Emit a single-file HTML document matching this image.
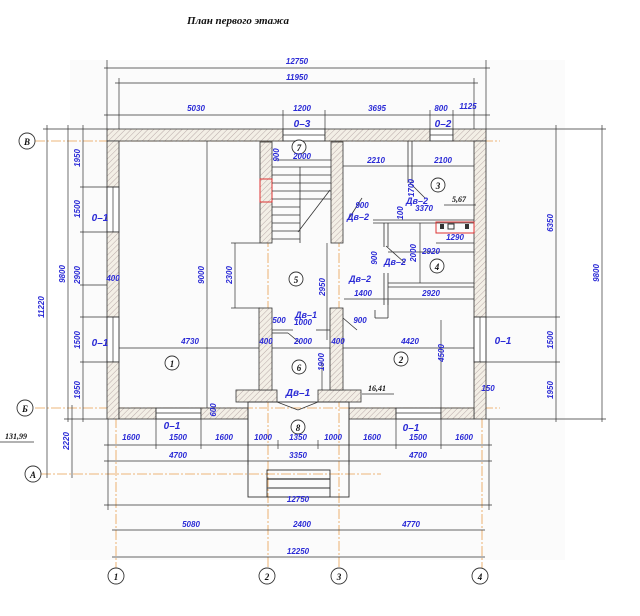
<!DOCTYPE html>
<html><head><meta charset="utf-8"><style>
html,body{margin:0;padding:0;background:#fff;width:640px;height:616px;overflow:hidden}
svg{display:block}
.t{font-family:"Liberation Sans",sans-serif;font-style:italic;font-weight:bold;font-size:8px;fill:#2b2bd6}
.b{font-family:"Liberation Serif",serif;font-style:italic;font-weight:bold;font-size:9px;fill:#111}
.d{stroke:#333;stroke-width:0.7;fill:none}
.o{stroke:#e8a050;stroke-width:0.8;fill:none;stroke-dasharray:10 2 2 2}
.w{fill:url(#h);stroke:#333;stroke-width:0.8}
.c{fill:#fff;stroke:#333;stroke-width:0.9}
</style></head><body>
<svg width="640" height="616" viewBox="0 0 640 616" xmlns="http://www.w3.org/2000/svg">
<defs>
<pattern id="h" patternUnits="userSpaceOnUse" width="4" height="4" patternTransform="rotate(45)">
<rect width="4" height="4" fill="#f3efe6"/><line x1="0" y1="0" x2="0" y2="4" stroke="#a99" stroke-width="0.8"/></pattern>
</defs>
<rect x="70" y="60" width="495" height="500" fill="#fbfbfb"/>
<text x="187" y="24" class="b" style="font-size:11px">План первого этажа</text>

<!-- axes orange -->
<line x1="35" y1="141" x2="500" y2="141" class="o"/>
<line x1="35" y1="408" x2="500" y2="408" class="o"/>
<line x1="41" y1="474" x2="381" y2="474" class="o"/>
<line x1="116" y1="130" x2="116" y2="568" class="o"/>
<line x1="268" y1="141" x2="268" y2="568" class="o"/>
<line x1="339" y1="141" x2="339" y2="568" class="o"/>
<line x1="482" y1="130" x2="482" y2="568" class="o"/>

<!-- top dims -->
<g class="d">
<line x1="104" y1="68" x2="490" y2="68"/><line x1="107" y1="60" x2="107" y2="129"/><line x1="486" y1="60" x2="486" y2="129"/>
<line x1="115" y1="83" x2="478" y2="83"/><line x1="119" y1="78" x2="119" y2="129"/><line x1="474" y1="78" x2="474" y2="129"/>
<line x1="104" y1="115" x2="490" y2="115"/>
<line x1="283" y1="110" x2="283" y2="129"/><line x1="325" y1="110" x2="325" y2="129"/><line x1="430" y1="110" x2="430" y2="129"/><line x1="453" y1="110" x2="453" y2="129"/>
<!-- left dims -->
<line x1="47" y1="125" x2="47" y2="478"/><line x1="68" y1="125" x2="68" y2="422"/><line x1="83" y1="125" x2="83" y2="422"/><line x1="72" y1="405" x2="72" y2="478"/>
<line x1="43" y1="129" x2="107" y2="129"/><line x1="80" y1="187" x2="107" y2="187"/><line x1="80" y1="232" x2="107" y2="232"/><line x1="80" y1="285" x2="107" y2="285"/><line x1="80" y1="317" x2="107" y2="317"/><line x1="80" y1="362" x2="107" y2="362"/><line x1="64" y1="419" x2="107" y2="419"/>
<!-- right dims -->
<line x1="556" y1="125" x2="556" y2="422"/><line x1="602" y1="125" x2="602" y2="422"/>
<line x1="486" y1="129" x2="606" y2="129"/><line x1="486" y1="317" x2="560" y2="317"/><line x1="486" y1="362" x2="560" y2="362"/><line x1="486" y1="419" x2="606" y2="419"/>
<!-- bottom dims -->
<line x1="104" y1="445" x2="492" y2="445"/><line x1="104" y1="461" x2="492" y2="461"/><line x1="104" y1="505" x2="492" y2="505"/>
<line x1="112" y1="530" x2="485" y2="530"/><line x1="112" y1="557" x2="485" y2="557"/>
<line x1="108" y1="419" x2="108" y2="510"/><line x1="489" y1="419" x2="489" y2="510"/>
<line x1="156" y1="419" x2="156" y2="449"/><line x1="201" y1="419" x2="201" y2="449"/><line x1="248" y1="419" x2="248" y2="465"/><line x1="278" y1="440" x2="278" y2="449"/><line x1="318" y1="440" x2="318" y2="449"/><line x1="349" y1="419" x2="349" y2="465"/><line x1="396" y1="419" x2="396" y2="449"/><line x1="441" y1="419" x2="441" y2="449"/>
<!-- interior dims -->
<line x1="119" y1="348" x2="474" y2="348"/><line x1="207" y1="141" x2="207" y2="408"/>
<line x1="235" y1="243" x2="235" y2="308"/><line x1="231" y1="243" x2="260" y2="243"/><line x1="231" y1="308" x2="260" y2="308"/>
<line x1="327" y1="243" x2="327" y2="340"/><line x1="322" y1="362" x2="322" y2="402"/>
<line x1="343" y1="166" x2="474" y2="166"/><line x1="344" y1="299" x2="474" y2="299"/><line x1="436" y1="243" x2="474" y2="243"/>
<line x1="388" y1="252" x2="474" y2="252"/><line x1="420" y1="223" x2="420" y2="283"/><line x1="441" y1="320" x2="441" y2="408"/>
<line x1="275" y1="160" x2="340" y2="160"/>
</g>

<!-- walls -->
<rect x="107" y="129" width="176" height="12" class="w"/>
<rect x="283" y="129" width="42" height="12" class="c"/><line x1="283" y1="135" x2="325" y2="135" class="d"/>
<rect x="325" y="129" width="105" height="12" class="w"/>
<rect x="430" y="129" width="23" height="12" class="c"/><line x1="430" y1="135" x2="453" y2="135" class="d"/>
<rect x="453" y="129" width="33" height="12" class="w"/>
<rect x="107" y="141" width="12" height="46" class="w"/>
<rect x="107" y="187" width="12" height="45" class="c"/><line x1="113" y1="187" x2="113" y2="232" class="d"/>
<rect x="107" y="232" width="12" height="85" class="w"/>
<rect x="107" y="317" width="12" height="45" class="c"/><line x1="113" y1="317" x2="113" y2="362" class="d"/>
<rect x="107" y="362" width="12" height="57" class="w"/>
<rect x="474" y="141" width="12" height="176" class="w"/>
<rect x="474" y="317" width="12" height="45" class="c"/><line x1="480" y1="317" x2="480" y2="362" class="d"/>
<rect x="474" y="362" width="12" height="57" class="w"/>
<rect x="119" y="408" width="37" height="11" class="w"/>
<rect x="156" y="408" width="45" height="11" class="c"/><line x1="156" y1="413" x2="201" y2="413" class="d"/>
<rect x="201" y="408" width="47" height="11" class="w"/>
<rect x="349" y="408" width="47" height="11" class="w"/>
<rect x="396" y="408" width="45" height="11" class="c"/><line x1="396" y1="413" x2="441" y2="413" class="d"/>
<rect x="441" y="408" width="33" height="11" class="w"/>
<rect x="236" y="390" width="41" height="12" class="w"/><rect x="318" y="390" width="43" height="12" class="w"/>
<rect x="248" y="402" width="101" height="95" fill="none" stroke="#333" stroke-width="0.9"/>
<rect x="267" y="470" width="63" height="27" fill="none" stroke="#333" stroke-width="0.9"/>
<line x1="267" y1="479" x2="330" y2="479" stroke="#333" stroke-width="1.3"/><line x1="267" y1="488" x2="330" y2="488" stroke="#333"/>
<line x1="277" y1="402" x2="298" y2="410" class="d"/><line x1="318" y1="402" x2="298" y2="410" class="d"/>
<!-- interior walls -->
<rect x="260" y="142" width="12" height="101" class="w"/><rect x="331" y="142" width="12" height="101" class="w"/>
<rect x="259" y="308" width="13" height="82" class="w"/><rect x="330" y="308" width="13" height="82" class="w"/>
<rect x="260" y="179" width="12" height="23" fill="none" stroke="#d33" stroke-width="1"/>
<g stroke="#333" stroke-width="0.8">
<line x1="272" y1="167" x2="331" y2="167"/><line x1="300" y1="167" x2="300" y2="243"/>
<line x1="272" y1="175" x2="331" y2="175"/><line x1="272" y1="183" x2="331" y2="183"/><line x1="272" y1="191" x2="331" y2="191"/><line x1="272" y1="199" x2="331" y2="199"/><line x1="272" y1="207" x2="300" y2="207"/><line x1="272" y1="215" x2="300" y2="215"/><line x1="272" y1="223" x2="300" y2="223"/><line x1="272" y1="231" x2="300" y2="231"/><line x1="272" y1="239" x2="300" y2="239"/>
<line x1="298" y1="232" x2="330" y2="190"/>
<line x1="408" y1="141" x2="408" y2="183"/><line x1="412" y1="141" x2="412" y2="183"/><line x1="410" y1="183" x2="425" y2="198"/>
<line x1="373" y1="220" x2="474" y2="220"/><line x1="373" y1="223" x2="474" y2="223"/>
<line x1="384" y1="223" x2="384" y2="247"/><line x1="388" y1="223" x2="388" y2="247"/>
<line x1="384" y1="273" x2="384" y2="305"/><line x1="388" y1="273" x2="388" y2="305"/>
<line x1="388" y1="283" x2="474" y2="283"/><line x1="388" y1="287" x2="474" y2="287"/>
<line x1="388" y1="300" x2="388" y2="318"/><line x1="375" y1="318" x2="388" y2="318"/><line x1="375" y1="310" x2="375" y2="318"/>
<line x1="386" y1="246" x2="405" y2="263"/><line x1="348" y1="220" x2="362" y2="198"/>
<line x1="272" y1="330" x2="293" y2="330"/><line x1="272" y1="333" x2="288" y2="333"/><line x1="288" y1="333" x2="300" y2="343"/>
<line x1="343" y1="318" x2="357" y2="330"/><line x1="316" y1="330" x2="330" y2="330"/>
</g>
<rect x="436" y="222" width="38" height="11" fill="none" stroke="#d33" stroke-width="1"/>
<rect x="440" y="224" width="4" height="5" fill="#333"/><rect x="448" y="224" width="6" height="5" fill="none" stroke="#333"/><rect x="465" y="224" width="4" height="5" fill="#333"/>

<!-- circles -->
<g fill="#fff" stroke="#333" stroke-width="0.9">
<circle cx="27" cy="141" r="8"/><circle cx="25" cy="408" r="8"/><circle cx="33" cy="474" r="8"/>
<circle cx="116" cy="576" r="8"/><circle cx="267" cy="576" r="8"/><circle cx="339" cy="576" r="8"/><circle cx="480" cy="576" r="8"/>
<circle cx="299" cy="147" r="7"/><circle cx="296" cy="279" r="7"/><circle cx="172" cy="363" r="7"/><circle cx="299" cy="367" r="7"/><circle cx="401" cy="359" r="7"/><circle cx="298" cy="427" r="7"/><circle cx="438" cy="185" r="7"/><circle cx="437" cy="266" r="7"/>
</g>
<g class="b" text-anchor="middle">
<text x="27" y="145">В</text><text x="25" y="412">Б</text><text x="33" y="478">А</text>
<text x="116" y="580">1</text><text x="267" y="580">2</text><text x="339" y="580">3</text><text x="480" y="580">4</text>
<text x="299" y="151">7</text><text x="296" y="283">5</text><text x="172" y="367">1</text><text x="299" y="371">6</text><text x="401" y="363">2</text><text x="298" y="431">8</text><text x="438" y="189">3</text><text x="437" y="270">4</text>
<text x="459" y="202" style="font-size:8px">5,67</text><text x="377" y="391" style="font-size:8px">16,41</text><text x="16" y="439" style="font-size:8px">131,99</text>
</g>
<g stroke="#333" stroke-width="0.7"><line x1="444" y1="205" x2="476" y2="205"/><line x1="362" y1="394" x2="394" y2="394"/><line x1="0" y1="442" x2="34" y2="442"/></g>

<!-- blue labels -->
<g class="t" text-anchor="middle">
<text x="297" y="64">12750</text><text x="297" y="80">11950</text>
<text x="196" y="111">5030</text><text x="302" y="111">1200</text><text x="377" y="111">3695</text><text x="441" y="111">800</text><text x="468" y="109">1125</text>
<text x="302" y="127" style="font-size:10px">0–3</text><text x="443" y="127" style="font-size:10px">0–2</text>
<text x="100" y="221" style="font-size:10px">0–1</text><text x="100" y="346" style="font-size:10px">0–1</text><text x="503" y="344" style="font-size:10px">0–1</text>
<text x="172" y="429" style="font-size:10px">0–1</text><text x="411" y="431" style="font-size:10px">0–1</text>
<text x="302" y="159">2000</text><text x="376" y="163">2210</text><text x="443" y="163">2100</text>
<text x="424" y="211">3370</text><text x="455" y="240">1290</text><text x="431" y="254">2920</text><text x="363" y="296">1400</text><text x="431" y="296">2920</text>
<text x="279" y="323">500</text><text x="303" y="325">1000</text><text x="360" y="323">900</text><text x="362" y="208">900</text>
<text x="190" y="344">4730</text><text x="410" y="344">4420</text><text x="303" y="344">2000</text><text x="266" y="344">400</text><text x="338" y="344">400</text><text x="113" y="281">400</text>
<text x="488" y="391">150</text>
<text x="131" y="440">1600</text><text x="178" y="440">1500</text><text x="224" y="440">1600</text><text x="263" y="440">1000</text><text x="298" y="440">1350</text><text x="333" y="440">1000</text><text x="372" y="440">1600</text><text x="418" y="440">1500</text><text x="464" y="440">1600</text>
<text x="178" y="458">4700</text><text x="298" y="458">3350</text><text x="418" y="458">4700</text>
<text x="298" y="502">12750</text><text x="191" y="527">5080</text><text x="302" y="527">2400</text><text x="411" y="527">4770</text><text x="298" y="554">12250</text>
<text x="306" y="318" style="font-size:9px">Дв–1</text><text x="298" y="396" style="font-size:10px">Дв–1</text>
<text x="417" y="204" style="font-size:9px">Дв–2</text><text x="358" y="220" style="font-size:9px">Дв–2</text><text x="395" y="265" style="font-size:9px">Дв–2</text><text x="360" y="282" style="font-size:9px">Дв–2</text>
</g>
<g class="t" text-anchor="middle">
<text transform="translate(80,158) rotate(-90)">1950</text><text transform="translate(80,209) rotate(-90)">1500</text><text transform="translate(80,275) rotate(-90)">2900</text><text transform="translate(80,340) rotate(-90)">1500</text><text transform="translate(80,390) rotate(-90)">1950</text>
<text transform="translate(65,274) rotate(-90)">9800</text><text transform="translate(44,307) rotate(-90)">11220</text><text transform="translate(69,441) rotate(-90)">2220</text>
<text transform="translate(553,223) rotate(-90)">6350</text><text transform="translate(599,273) rotate(-90)">9800</text><text transform="translate(553,340) rotate(-90)">1500</text><text transform="translate(553,390) rotate(-90)">1950</text>
<text transform="translate(204,275) rotate(-90)">9000</text><text transform="translate(232,275) rotate(-90)">2300</text><text transform="translate(325,287) rotate(-90)">2950</text>
<text transform="translate(279,155) rotate(-90)">900</text><text transform="translate(414,188) rotate(-90)">1700</text><text transform="translate(403,213) rotate(-90)">100</text>
<text transform="translate(416,253) rotate(-90)">2000</text><text transform="translate(377,258) rotate(-90)">900</text>
<text transform="translate(324,362) rotate(-90)">1900</text><text transform="translate(444,353) rotate(-90)">4500</text><text transform="translate(216,410) rotate(-90)">600</text>
</g>
</svg>
</body></html>
